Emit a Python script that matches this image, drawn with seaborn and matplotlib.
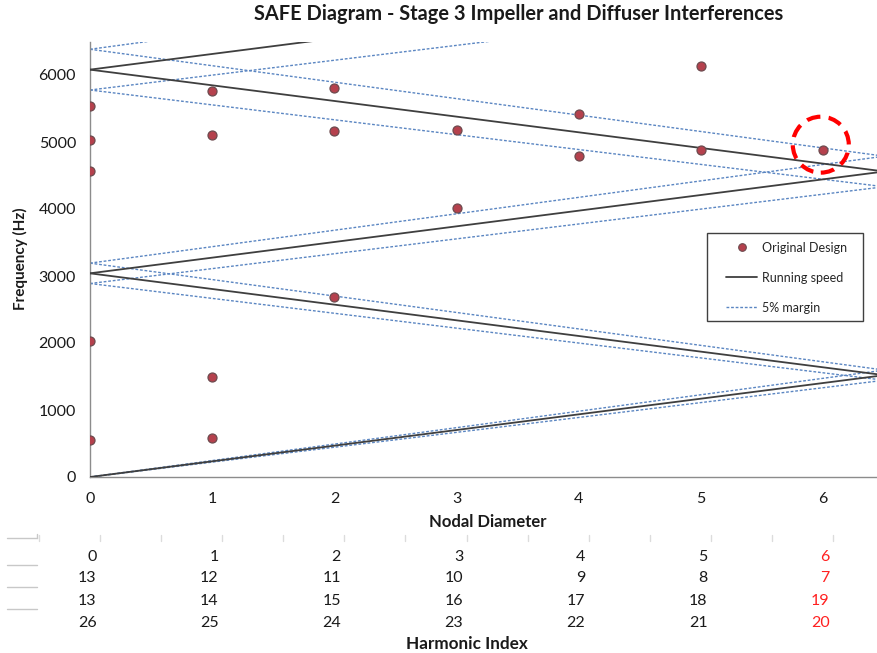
import numpy as np
import pandas as pd
import matplotlib
matplotlib.use("Agg")
import matplotlib.pyplot as plt
from matplotlib.patches import Ellipse, Rectangle
from matplotlib.lines import Line2D
import seaborn as sns

# ---------------- data ----------------
title = "SAFE Diagram - Stage 3 Impeller and Diffuser Interferences"
run_freq_hz = 3040 / 13.0          # rotor running frequency (Hz)
harmonic_orders = [0, 13, 26]      # 0, impeller/diffuser blade-count harmonics
margin = 0.05

orig_nd = [0, 0, 0, 0, 0, 1, 1, 1, 1, 2, 2, 2, 3, 3, 4, 4, 5, 5, 6]
orig_freq = [5530, 5030, 4570, 2030, 545, 5760, 5105, 1495, 575, 5805, 5165, 2690,
             5180, 4020, 5420, 4790, 6130, 4880, 4880]

table_nd = [0, 1, 2, 3, 4, 5, 6]
table_row2 = [13, 12, 11, 10, 9, 8, 7]
table_row3 = [13, 14, 15, 16, 17, 18, 19]
table_row4 = [26, 25, 24, 23, 22, 21, 20]
highlight_nd = 6
highlight_freq = 4960

yticks = [0, 1000, 2000, 3000, 4000, 5000, 6000]

# ---------------- figure ----------------
sns.set_theme(style="white")
plt.rcParams["font.family"] = ["Lato", "DejaVu Sans"]

W, H = 877, 653
fig = plt.figure(figsize=(W / 100, H / 100), dpi=100)
ax_l, ax_r, ax_t, ax_b = 90, 877, 41.5, 477
ax = fig.add_axes([ax_l / W, 1 - ax_b / H, (ax_r - ax_l) / W, (ax_b - ax_t) / H])

XMAX = 6.44
nd_line = np.array([0.0, 6.5])

line_col = "#3f3f3f"
margin_col = "#5b86c2"
for k in harmonic_orders:
    signs = [1] if k == 0 else [-1, 1]
    for s in signs:
        f = np.abs(k + s * nd_line) * run_freq_hz
        ax.plot(nd_line, f, color=line_col, lw=1.3, zorder=3)
        for m in (1 + margin, 1 - margin):
            ax.plot(nd_line, f * m, color=margin_col, lw=1.0,
                    linestyle=(0, (2.0, 1.3)), zorder=2)

df = pd.DataFrame({"nd": orig_nd, "freq": orig_freq})
sns.scatterplot(data=df, x="nd", y="freq", ax=ax, s=42, color="#b5414d",
                edgecolor="#6d4a4e", linewidth=0.9, zorder=5, legend=False)

# highlight circle
circ = Ellipse((highlight_nd - 0.02, highlight_freq), width=56 / 122.2, height=56 / 0.06708,
               fill=False, edgecolor="#ff0000", lw=3.0, linestyle=(0, (3.3, 2.0)), zorder=6)
ax.add_patch(circ)

ax.set_xlim(0, XMAX)
ax.set_ylim(0, 6500)
ax.set_xticks(table_nd)
ax.set_yticks(yticks)
ax.set_xlabel("")
ax.set_ylabel("")
for side in ("top", "right"):
    ax.spines[side].set_visible(False)
for side in ("left", "bottom"):
    ax.spines[side].set_color("#8c8c8c")
    ax.spines[side].set_linewidth(1.0)
ax.tick_params(axis="both", which="major", direction="out", length=5, width=1,
               color="#8c8c8c", labelsize=11.5, labelcolor="#1a1a1a")
ax.tick_params(axis="y", pad=5)
ax.tick_params(axis="x", pad=6)

# legend (frame drawn separately to match the wider side padding)
handles = [
    Line2D([], [], marker="o", linestyle="none", markersize=5.5, markerfacecolor="#b5414d",
           markeredgecolor="#6d4a4e", markeredgewidth=0.8),
    Line2D([], [], color=line_col, lw=1.3),
    Line2D([], [], color=margin_col, lw=1.0, linestyle=(0, (2.0, 1.3))),
]
leg = fig.legend(handles, ["Original Design", "Running speed", "5% margin"],
                 loc="upper left", bbox_to_anchor=(726 / W, 1 - 241.5 / H),
                 bbox_transform=fig.transFigure, fontsize=9, frameon=False,
                 handlelength=2.5, handletextpad=0.4,
                 labelspacing=1.45, borderpad=0, borderaxespad=0)
fig.add_artist(Rectangle((707 / W, 1 - 321 / H), (863 - 707) / W, (321 - 233) / H,
                         transform=fig.transFigure, fill=False, edgecolor="#404040", lw=1.0))

# texts
fig.text(519 / W, 1 - 14 / H, title, ha="center", va="center", fontsize=14.4,
         fontweight="bold", color="#1a1a1a")
fig.text(20 / W, 1 - 259 / H, "Frequency (Hz)", ha="center", va="center", rotation=90,
         fontsize=11, fontweight="bold", color="#1a1a1a")
fig.text(488 / W, 1 - 522 / H, "Nodal Diameter", ha="center", va="center",
         fontsize=12, fontweight="bold", color="#1a1a1a")
fig.text(467 / W, 1 - 644 / H, "Harmonic Index", ha="center", va="center",
         fontsize=12.3, fontweight="bold", color="#1a1a1a")

# data table under chart
row_y = [557, 578, 601, 623]
rows = [table_nd, table_row2, table_row3, table_row4]
px_per_nd = (ax_r - ax_l) / XMAX
for ry, row in zip(row_y, rows):
    for nd, val in zip(table_nd, row):
        xpx = ax_l + nd * px_per_nd + 6.5
        col = "#ff2020" if nd == highlight_nd else "#1a1a1a"
        fig.text(xpx / W, 1 - ry / H, str(val), ha="right", va="center",
                 fontsize=11.5, color=col)

# table decoration: short row rules and faint column ticks
for ly in [538, 565, 587, 609]:
    fig.add_artist(Line2D([7 / W, 37 / W], [1 - ly / H, 1 - ly / H], color="#c8c8c8", lw=1.0))
fig.add_artist(Line2D([37 / W, 37 / W], [1 - 538 / H, 1 - 534 / H], color="#c8c8c8", lw=1.0))
for i in range(14):
    tx = 38.5 + i * 61.15
    fig.add_artist(Line2D([tx / W, tx / W], [1 - 541 / H, 1 - 535 / H], color="#dcdcdc", lw=1.0))

fig.savefig("out.png", dpi=100)
